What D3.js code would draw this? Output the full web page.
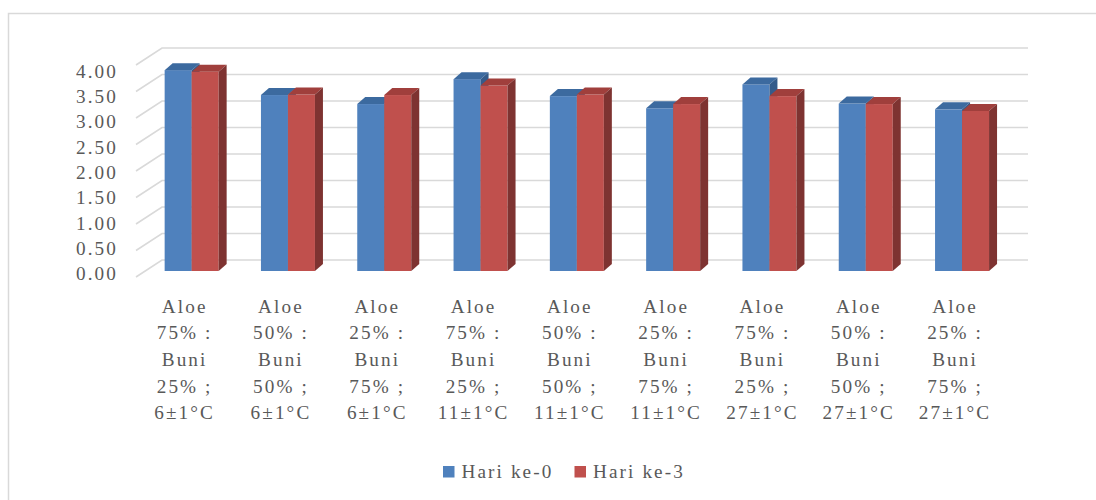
<!DOCTYPE html>
<html>
<head>
<meta charset="utf-8">
<script src="https://cdn.jsdelivr.net/npm/d3@7/dist/d3.min.js"></script>
<style>
  html, body { margin: 0; padding: 0; background: #fff; }
  svg { display: block; }
  text { font-family: "Liberation Serif", "Times New Roman", serif; fill: #595959; }
</style>
</head>
<body>
<svg id="chart" width="1096" height="500"></svg>
<script>
// Category labels (one entry per line of each label)
const categories = [
  ["Aloe", "75% :", "Buni", "25% ;", "6±1°C"],
  ["Aloe", "50% :", "Buni", "50% ;", "6±1°C"],
  ["Aloe", "25% :", "Buni", "75% ;", "6±1°C"],
  ["Aloe", "75% :", "Buni", "25% ;", "11±1°C"],
  ["Aloe", "50% :", "Buni", "50% ;", "11±1°C"],
  ["Aloe", "25% :", "Buni", "75% ;", "11±1°C"],
  ["Aloe", "75% :", "Buni", "25% ;", "27±1°C"],
  ["Aloe", "50% :", "Buni", "50% ;", "27±1°C"],
  ["Aloe", "25% :", "Buni", "75% ;", "27±1°C"]
];
const seriesNames = ["Hari ke-0", "Hari ke-3"];
const hari0 = [3.79, 3.32, 3.15, 3.62, 3.30, 3.07, 3.52, 3.16, 3.05];
const hari3 = [3.76, 3.33, 3.32, 3.50, 3.33, 3.15, 3.30, 3.15, 3.02];
const yTicks = [0, 0.5, 1, 1.5, 2, 2.5, 3, 3.5, 4];

const colors = {
  front: ["#4F81BD", "#C0504D"],
  top:   ["#3C6A9F", "#A03F3C"],
  side:  ["#345B8A", "#7E3331"]
};

const FONT_SIZE = "19.2px";
const LETTER_SPACING = "2.1px";

const svg = d3.select("#chart");
const keys = categories.map((c, i) => "c" + i);

// Chart area border
svg.append("rect")
  .attr("x", 8.5).attr("y", 13.5)
  .attr("width", 1200).attr("height", 600)
  .attr("fill", "none").attr("stroke", "#d9d9d9").attr("stroke-width", 1.5);

// Scales: front plane, back wall, bar face and axis labels
const x = d3.scaleBand().domain(keys).range([136, 1002.7]);
const yFront = d3.scaleLinear().domain([0, 4]).range([277, 65]);
const yBack = d3.scaleLinear().domain([0, 4]).range([260, 48]);
const yBar = d3.scaleLinear().domain([0, 4]).range([271, 59]);
const yLabel = d3.scaleLinear().domain([0, 4]).range([273.5, 71]);

const wallLeft = 162, wallRight = 1028, frontLeft = 136;

// Gridlines: side wall slant + back wall horizontal
const grid = svg.append("g").attr("stroke", "#d9d9d9").attr("stroke-width", 1.6).attr("fill", "none");
yTicks.forEach(v => {
  grid.append("path")
    .attr("d", `M${frontLeft},${yFront(v)}L${wallLeft},${yBack(v)}L${wallRight},${yBack(v)}`);
});

// Y axis labels
const yAxis = d3.axisLeft(yLabel).tickValues(yTicks).tickFormat(d3.format(".2f")).tickSize(0).tickPadding(0);
const yG = svg.append("g").attr("transform", "translate(118,0)").call(yAxis);
yG.select(".domain").remove();
yG.selectAll("text")
  .attr("font-family", null)
  .style("font-size", FONT_SIZE)
  .style("letter-spacing", LETTER_SPACING)
  .style("fill", "#595959");

// 3D bars
const barW = 27, dx = 8, dy = 7, depthShift = 7.5;
const base = yBar(0);
const series = [hari0, hari3];
const barsG = svg.append("g");
keys.forEach((k, i) => {
  const gc = x(k) + x.bandwidth() / 2 + depthShift;
  series.forEach((vals, s) => {
    const x0 = gc - barW + s * barW;
    const x1 = x0 + barW;
    const yt = yBar(vals[i]);
    const g = barsG.append("g");
    // front face
    g.append("rect")
      .attr("x", x0).attr("y", yt)
      .attr("width", barW).attr("height", base - yt)
      .attr("fill", colors.front[s]);
    // top face
    g.append("path")
      .attr("d", `M${x0},${yt}L${x0 + dx},${yt - dy}L${x1 + dx},${yt - dy}L${x1},${yt}Z`)
      .attr("fill", colors.top[s]);
    // right side face
    g.append("path")
      .attr("d", `M${x1},${yt}L${x1 + dx},${yt - dy}L${x1 + dx},${base - dy}L${x1},${base}Z`)
      .attr("fill", colors.side[s]);
  });
});

// Category labels
const xAxisG = svg.append("g");
keys.forEach((k, i) => {
  const cx = x(k) + x.bandwidth() / 2 - 0.5;
  const t = xAxisG.append("text")
    .attr("text-anchor", "middle")
    .style("font-size", FONT_SIZE)
    .style("letter-spacing", LETTER_SPACING);
  categories[i].forEach((line, j) => {
    t.append("tspan")
      .attr("x", cx + 1)
      .attr("y", 306 + j * 26.6)
      .attr("dy", "0.35em")
      .text(line);
  });
});

// Legend
const legend = svg.append("g");
const legendItems = [
  { name: seriesNames[0], color: colors.front[0], x: 443 },
  { name: seriesNames[1], color: colors.front[1], x: 574.5 }
];
legendItems.forEach(d => {
  legend.append("rect")
    .attr("x", d.x).attr("y", 466)
    .attr("width", 11.5).attr("height", 11.5)
    .attr("fill", d.color);
  legend.append("text")
    .attr("x", d.x + 18.5).attr("y", 471.5)
    .attr("dy", "0.35em")
    .style("font-size", FONT_SIZE)
    .style("letter-spacing", LETTER_SPACING)
    .text(d.name);
});
</script>
</body>
</html>
